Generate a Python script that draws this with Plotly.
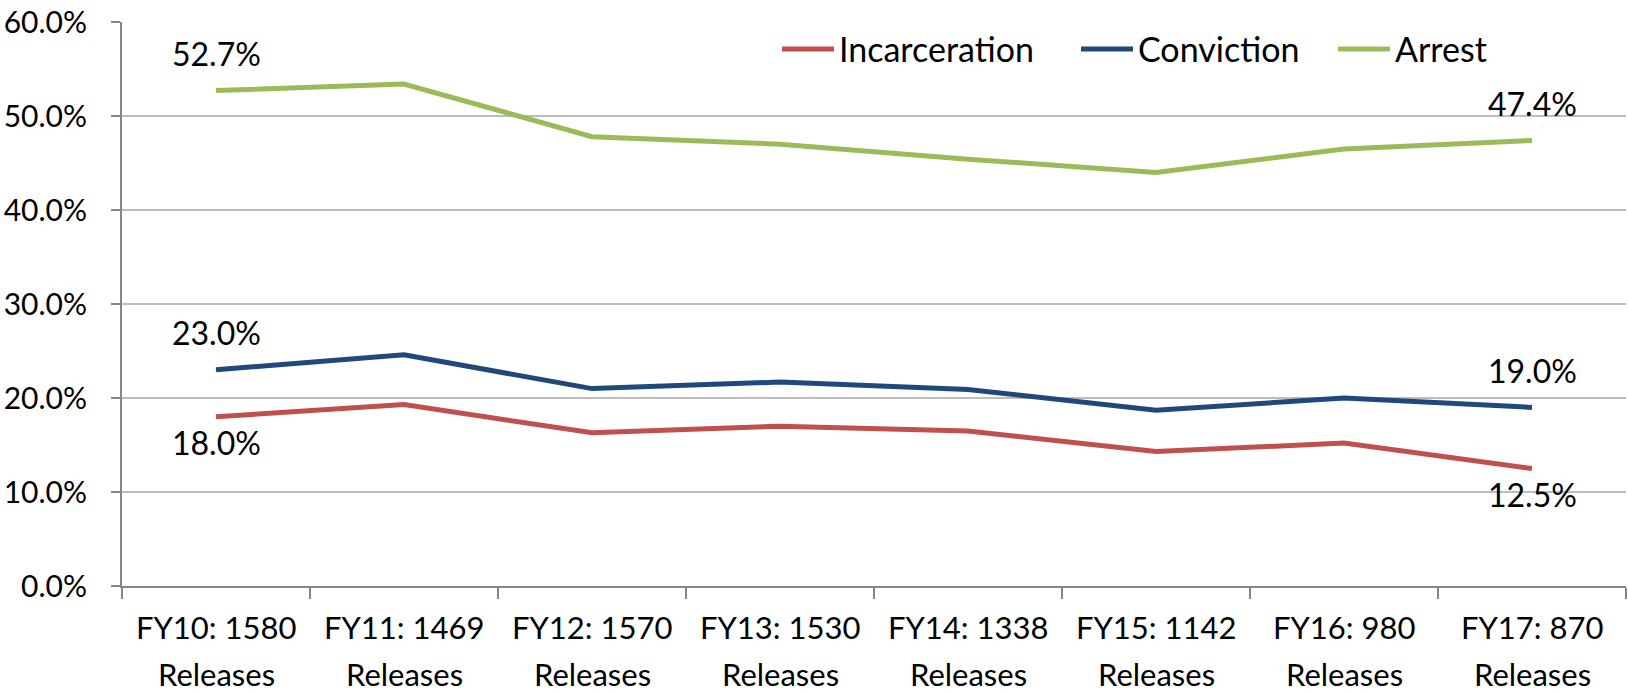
import plotly.graph_objects as go

# Release cohorts (category axis) and recidivism rates in percent
cohorts = ["FY10: 1580", "FY11: 1469", "FY12: 1570", "FY13: 1530",
           "FY14: 1338", "FY15: 1142", "FY16: 980", "FY17: 870"]
cohort_suffix = "Releases"

incarceration = [18.0, 19.3, 16.3, 17.0, 16.5, 14.3, 15.2, 12.5]
conviction = [23.0, 24.6, 21.0, 21.7, 20.9, 18.7, 20.0, 19.0]
arrest = [52.7, 53.4, 47.8, 47.0, 45.4, 44.0, 46.5, 47.4]

series_names = ["Incarceration", "Conviction", "Arrest"]
series_values = [incarceration, conviction, arrest]
series_colors = ["#C0504D", "#1F497D", "#9BBB59"]
# vertical offset (px) of the end-point value labels: positive = above
label_shift = [-26, 37, 37]

FONT = "Lato"
TXT = "#000000"
W, H = 1628, 693
L, R, T, B = 122, 2, 22, 107

fig = go.Figure()
for name, vals, col in zip(series_names, series_values, series_colors):
    fig.add_trace(go.Scatter(
        x=cohorts, y=vals, name=name, mode="lines",
        line=dict(color=col, width=5), showlegend=False,
    ))

annotations = []
# value labels on first and last points
for vals, shift in zip(series_values, label_shift):
    for i in (0, len(vals) - 1):
        annotations.append(dict(
            x=cohorts[i], y=vals[i], xref="x", yref="y",
            text=f"{vals[i]:.1f}%", showarrow=False, yshift=shift,
            font=dict(family=FONT, size=32, color=TXT),
        ))

# two-line category labels under the axis
for c in cohorts:
    annotations.append(dict(
        x=c, y=0, xref="x", yref="paper", text=c, showarrow=False,
        yanchor="middle", yshift=-41,
        font=dict(family=FONT, size=31, color=TXT),
    ))
    annotations.append(dict(
        x=c, y=0, xref="x", yref="paper", text=cohort_suffix, showarrow=False,
        yanchor="middle", yshift=-88,
        font=dict(family=FONT, size=31, color=TXT),
    ))

# legend drawn inside the plot area
plot_w = W - L - R
plot_h = H - T - B
def px_x(p):
    return (p - L) / plot_w
def px_y(p):
    return (H - B - p) / plot_h

shapes = []
legend_x = [780, 1079, 1336]
legend_y = px_y(49)
for name, col, x0 in zip(series_names, series_colors, legend_x):
    shapes.append(dict(
        type="line", xref="paper", yref="paper",
        x0=px_x(x0 + 2), x1=px_x(x0 + 54), y0=legend_y, y1=legend_y,
        line=dict(color=col, width=5),
    ))
    annotations.append(dict(
        x=px_x(x0 + 57), y=legend_y, xref="paper", yref="paper",
        text=name, showarrow=False, xanchor="left", yanchor="middle",
        font=dict(family=FONT, size=34, color=TXT),
    ))

fig.update_layout(
    width=W, height=H,
    margin=dict(l=L, r=R, t=T, b=B),
    paper_bgcolor="white", plot_bgcolor="white",
    font=dict(family=FONT, size=30, color=TXT),
    annotations=annotations, shapes=shapes,
    xaxis=dict(
        type="category", categoryorder="array", categoryarray=cohorts,
        range=[-0.5, len(cohorts) - 0.5],
        tickson="boundaries", ticks="outside", ticklen=11, tickwidth=2,
        tickcolor="#868686", showticklabels=False, showgrid=False,
        showline=True, linecolor="#868686", linewidth=2, zeroline=False,
    ),
    yaxis=dict(
        range=[0, 60], dtick=10, tickformat=".1f", ticksuffix="%",
        ticks="outside", ticklen=9, tickwidth=2, tickcolor="#868686",
        ticklabelstandoff=18,
        showgrid=True, gridcolor="#BDBDBD", gridwidth=2,
        showline=True, linecolor="#868686", linewidth=2, zeroline=False,
        tickfont=dict(family=FONT, size=30, color=TXT),
    ),
)

fig.write_html("out.html")
